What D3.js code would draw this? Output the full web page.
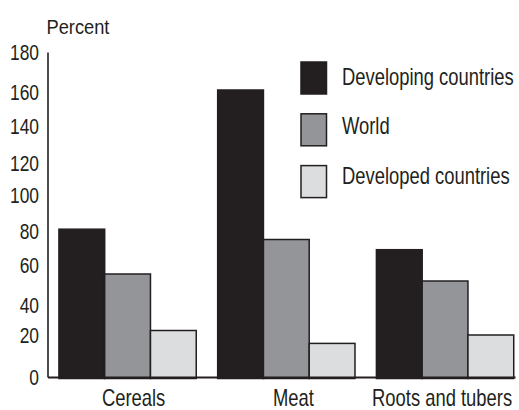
<!DOCTYPE html>
<html>
<head>
<meta charset="utf-8">
<script src="https://cdn.jsdelivr.net/npm/d3@7"></script>
<style>
  html, body { margin: 0; padding: 0; background: #fff; }
  svg { display: block; }
  text { font-family: "Liberation Sans", Arial, Helvetica, sans-serif; fill: #231f20; }
</style>
</head>
<body>
<svg id="chart" width="519" height="410"></svg>
<script>
// ---- data ----
const categories = ["Cereals", "Meat", "Roots and tubers"];
const seriesNames = ["Developing countries", "World", "Developed countries"];
const developing = [81, 161, 69];
const world = [55.5, 75, 52];
const developed = [23, 16, 20];
const yTicks = [0, 20, 40, 60, 80, 100, 120, 140, 160, 180];
const yTitle = "Percent";

// ---- layout ----
const W = 519, H = 410;
const sx = 0.8;                // horizontal squeeze to mimic condensed type
const fs = 23;
const tickFs = 22, tickSx = 0.79;
const axisX = 47.5, baseY = 377;
// pixel stops of the printed tick labels (the original axis is irregularly spaced)
const yStops = [377, 335, 305, 265, 231, 195, 163, 126, 92, 52];
const colors = ["#231f20", "#939598", "#dcddde"];
const labelNudge = [6, 7, -3];

const svg = d3.select("#chart");
const seriesValues = [developing, world, developed];
const rows = categories.map((c, i) => ({
  cat: c,
  vals: seriesNames.map((s, j) => ({ s, v: seriesValues[j][i], j }))
}));

const y = d3.scaleLinear().domain(yTicks).range(yStops);
const x0 = d3.scaleBand().domain(categories).range([axisX, 515])
  .paddingInner(0.135).paddingOuter(0.04).align(0.9);
const x1 = d3.scaleBand().domain(seriesNames).range([0, x0.bandwidth()]);
const color = d3.scaleOrdinal().domain(seriesNames).range(colors);

// bars
const g = svg.append("g");
g.selectAll("g.grp").data(rows).join("g")
  .attr("class", "grp")
  .attr("transform", d => `translate(${x0(d.cat)},0)`)
  .selectAll("rect").data(d => d.vals).join("rect")
  .attr("x", d => x1(d.s))
  .attr("y", d => y(d.v))
  .attr("width", x1.bandwidth())
  .attr("height", d => y(0) - y(d.v) + 1.5)
  .attr("fill", d => color(d.s))
  .attr("stroke", "#231f20")
  .attr("stroke-width", 1.5);

// y axis
const yAxis = svg.append("g")
  .attr("transform", `translate(${axisX},0)`)
  .call(d3.axisLeft(y).tickValues(yTicks).tickSize(0).tickSizeOuter(0).tickFormat(d3.format("d")));
yAxis.select(".domain").attr("stroke", "#231f20").attr("stroke-width", 1.6);
yAxis.selectAll(".tick text")
  .attr("x", -8.5 / tickSx)
  .attr("dy", "0.36em")
  .attr("transform", `scale(${tickSx},1)`)
  .style("font-size", tickFs + "px")
  .style("font-family", '"Liberation Sans", Arial, sans-serif')
  .attr("fill", "#231f20");

// x axis
const xAxis = svg.append("g")
  .attr("transform", `translate(0,${baseY})`)
  .call(d3.axisBottom(x0).tickSize(0).tickSizeOuter(0));
xAxis.select(".domain").attr("stroke", "#231f20").attr("stroke-width", 2);
xAxis.selectAll(".tick text")
  .attr("y", 29.5)
  .attr("dy", 0)
  .attr("x", (d, i) => labelNudge[i] / sx)
  .attr("transform", `scale(${sx},1)`)
  .style("font-size", fs + "px")
  .style("font-family", '"Liberation Sans", Arial, sans-serif')
  .attr("fill", "#231f20");

// y title
svg.append("text")
  .attr("transform", `translate(46.5,34) scale(0.87,1)`)
  .style("font-size", "21px")
  .text(yTitle);

// legend
const lg = svg.append("g").selectAll("g").data(seriesNames).join("g");
lg.append("rect")
  .attr("x", 301)
  .attr("y", (d, i) => 62 + i * 51.8)
  .attr("width", 25.5)
  .attr("height", 32)
  .attr("fill", d => color(d))
  .attr("stroke", "#231f20")
  .attr("stroke-width", 1.5);
lg.append("text")
  .attr("transform", (d, i) => `translate(342,${84.5 + i * 49.8}) scale(${sx},1)`)
  .style("font-size", fs + "px")
  .text(d => d);
</script>
</body>
</html>
